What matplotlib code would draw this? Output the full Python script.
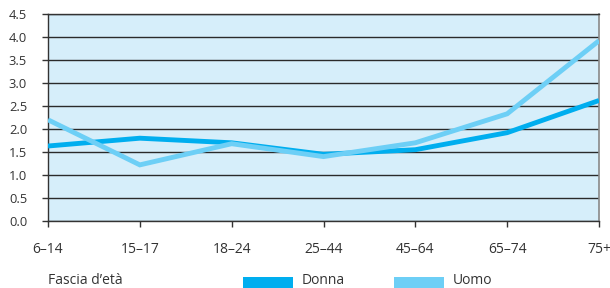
import matplotlib
matplotlib.use("Agg")
import matplotlib.pyplot as plt
from matplotlib.patches import Rectangle

categories = ["6–14", "15–17", "18–24", "25–44", "45–64", "65–74", "75+"]
donna = [1.63, 1.80, 1.70, 1.45, 1.55, 1.92, 2.62]
uomo = [2.20, 1.22, 1.68, 1.40, 1.70, 2.33, 3.92]
yticks = [0.0, 0.5, 1.0, 1.5, 2.0, 2.5, 3.0, 3.5, 4.0, 4.5]
xlabel = "Fascia d’età"
series_names = ["Donna", "Uomo"]
colors = ["#00aeef", "#6dcff6"]

plt.rcParams['font.family'] = ['Open Sans', 'DejaVu Sans']

fig = plt.figure(figsize=(6.10, 2.88), dpi=100)
W, H = 610, 288
ax = fig.add_axes([48/W, 1-221/H, (599-48)/W, (221-14)/H])
ax.set_facecolor("#d6eefa")
x = list(range(len(categories)))
ax.plot(x, donna, color=colors[0], lw=3.5, solid_joinstyle='miter', solid_capstyle='butt', zorder=3)
ax.plot(x, uomo, color=colors[1], lw=3.5, solid_joinstyle='miter', solid_capstyle='butt', zorder=3)
ax.set_xlim(0, len(categories)-1)
ax.set_ylim(0, 4.5)
ax.set_yticks(yticks)
ax.set_yticklabels([f"{v:.1f}" for v in yticks])
ax.set_xticks(x)
ax.set_xticklabels(categories)
ax.yaxis.grid(True, color="#2a2a2a", lw=1.0, zorder=1)
ax.set_axisbelow(True)
for s in ["left", "bottom", "top"]:
    ax.spines[s].set_color("#333333")
    ax.spines[s].set_linewidth(1.0)
ax.spines["right"].set_color("#888888")
ax.spines["right"].set_linewidth(1.2)
ax.tick_params(axis='both', colors="#333333", labelcolor="#333333", length=4, width=1)
ax.tick_params(axis='x', labelsize=10, pad=11)
ax.tick_params(axis='y', labelsize=9.3, pad=11)

# Legend at the bottom
fig.text(48/W, 1-281/H, xlabel, fontsize=10, color="#333333", va="center", ha="left")
for (x0, x1, tx), name, c in zip([(243, 293, 302), (394, 444, 453)], series_names, colors):
    fig.patches.append(Rectangle((x0/W, 0), (x1-x0)/W, 11/H, transform=fig.transFigure,
                                 facecolor=c, edgecolor='none'))
    fig.text(tx/W, 1-281/H, name, fontsize=10, color="#333333", va="center", ha="left")

fig.savefig("out.png", dpi=100)
